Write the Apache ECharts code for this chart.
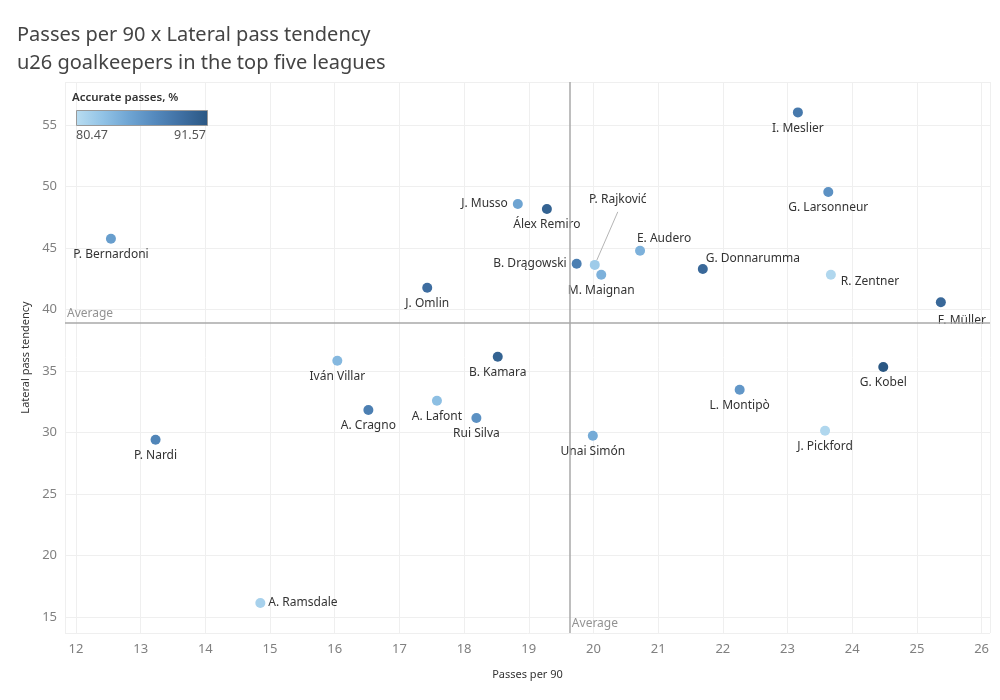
<!DOCTYPE html>
<html>
<head>
<meta charset="utf-8">
<script src="https://cdn.jsdelivr.net/npm/echarts@6/dist/echarts.min.js"></script>
<style>html,body{margin:0;padding:0;background:#fff;}#chart{width:1000px;height:700px;}</style>
</head>
<body>
<div id="chart"></div>
<script>
const players = ["I. Meslier","G. Larsonneur","J. Musso","Álex Remiro","P. Bernardoni","E. Audero","B. Drągowski","P. Rajković","M. Maignan","G. Donnarumma","R. Zentner","J. Omlin","F. Müller","Iván Villar","B. Kamara","G. Kobel","L. Montipò","A. Lafont","A. Cragno","Rui Silva","J. Pickford","Unai Simón","P. Nardi","A. Ramsdale"];
const passesPer90 = [23.16,23.63,18.83,19.28,12.54,20.72,19.74,20.02,20.12,21.69,23.67,17.43,25.37,16.04,18.52,24.48,22.26,17.58,16.52,18.19,23.58,19.99,13.23,14.85];
const lateralTendency = [56.03,49.55,48.58,48.17,45.76,44.78,43.72,43.63,42.83,43.29,42.83,41.77,40.59,35.84,36.16,35.33,33.48,32.59,31.83,31.18,30.15,29.74,29.41,16.14];
const accuratePct = [88.5,86.5,85.0,90.5,85.5,84.0,88.0,82.0,84.0,90.0,81.0,89.5,90.0,83.5,90.5,91.57,86.0,83.0,88.0,86.5,81.0,84.5,87.5,81.5];
const avgPasses = 19.635;
const avgLateral = 38.9;
const accMin = 80.47, accMax = 91.57;
const xRange = [11.83, 26.13];
const yRange = [13.7, 58.5];
const rampColors = ['#b9ddf1','#92c3e6','#6fa5d3','#5489bd','#3f6fa2','#2a5783'];

// label placement per player (style only)
const labelPos = {
  "J. Musso": {position:'left', distance:5},
  "B. Drągowski": {position:'left', distance:5},
  "R. Zentner": {position:'right', distance:5, offset:[0,7]},
  "A. Ramsdale": {position:'right', distance:3},
  "E. Audero": {position:'top', distance:3, offset:[24,2]},
  "G. Donnarumma": {position:'top', distance:3, offset:[50,4]},
  "P. Rajković": {position:'top', distance:3, offset:[23,-51]},
  "F. Müller": {position:'bottom', distance:5, offset:[21,2]}
};

const FONT = '"Noto Sans", sans-serif';
const data = players.map((n,i)=>{
  const item = {name:n, value:[passesPer90[i], lateralTendency[i], accuratePct[i]]};
  const lp = labelPos[n];
  if (lp) item.label = Object.assign({}, lp);
  if (n === "P. Rajković") item.labelLine = {show:true, lineStyle:{color:'#b5b5b5', width:1}};
  return item;
});

const chart = echarts.init(document.getElementById('chart'));
chart.setOption({
  backgroundColor:'#fff',
  animation:false,
  title:{
    text:'Passes per 90 x Lateral pass tendency\nu26 goalkeepers in the top five leagues',
    left:12, top:16,
    textStyle:{fontFamily:FONT, fontSize:20, fontWeight:'normal', color:'#444', lineHeight:28}
  },
  grid:{left:65, right:10, top:82, bottom:67},
  xAxis:{
    type:'value', min:xRange[0], max:xRange[1], splitNumber:14,
    name:'Passes per 90', nameLocation:'middle', nameGap:36,
    nameTextStyle:{fontFamily:FONT, fontSize:11, color:'#333'},
    axisLine:{show:false}, axisTick:{show:false},
    axisLabel:{showMinLabel:false, showMaxLabel:false, fontFamily:FONT, fontSize:13, color:'#808080', margin:10},
    splitLine:{show:true, lineStyle:{color:'#efefef', width:1}}
  },
  yAxis:{
    type:'value', min:yRange[0], max:yRange[1], splitNumber:9,
    name:'Lateral pass tendency', nameLocation:'middle', nameGap:27,
    nameTextStyle:{fontFamily:FONT, fontSize:11, color:'#333'},
    axisLine:{show:false}, axisTick:{show:false},
    axisLabel:{showMinLabel:false, showMaxLabel:false, fontFamily:FONT, fontSize:13, color:'#808080', margin:8},
    splitLine:{show:true, lineStyle:{color:'#efefef', width:1}}
  },
  visualMap:{
    show:false, type:'continuous', dimension:2, min:accMin, max:accMax,
    seriesIndex:0, inRange:{color:rampColors}
  },
  graphic:[
    {type:'text', left:72, top:92, z:100, style:{text:'Accurate passes, %', fontFamily:FONT, fontSize:11.5, fontWeight:600, fill:'#333'}},
    {type:'rect', left:76, top:110, z:100, shape:{width:131, height:15},
      style:{fill:new echarts.graphic.LinearGradient(0,0,1,0,rampColors.map((c,i)=>({offset:i/(rampColors.length-1), color:c}))), stroke:'#999', lineWidth:1}},
    {type:'text', left:76, top:129, z:100, style:{text:accMin.toFixed(2), fontFamily:FONT, fontSize:12.5, fill:'#555'}},
    {type:'text', left:174, top:129, z:100, style:{text:accMax.toFixed(2), fontFamily:FONT, fontSize:12.5, fill:'#555'}}
  ],
  series:[
    {
      type:'scatter', symbolSize:10, data:data, z:3,
      itemStyle:{opacity:1},
      label:{show:true, position:'bottom', distance:5, formatter:p=>p.name, fontFamily:FONT, fontSize:12, color:'#333'},
      labelLine:{show:false},
      emphasis:{disabled:true},
      markLine:{
        silent:true, symbol:'none', animation:false,
        lineStyle:{color:'#a9a9a9', width:1.5, type:'solid'},
        label:{show:false},
        data:[{xAxis:avgPasses},{yAxis:avgLateral}]
      }
    },
    {
      type:'scatter', symbolSize:0, silent:true,
      data:[[avgPasses, yRange[0]]],
      label:{show:true, position:'right', distance:2, offset:[0,-9], formatter:'Average', fontFamily:FONT, fontSize:12, color:'#777'}
    },
    {
      type:'scatter', symbolSize:0, silent:true,
      data:[[xRange[0], avgLateral]],
      label:{show:true, position:'right', distance:2, offset:[0,-9], formatter:'Average', fontFamily:FONT, fontSize:12, color:'#777'}
    }
  ]
});
</script>
</body>
</html>
